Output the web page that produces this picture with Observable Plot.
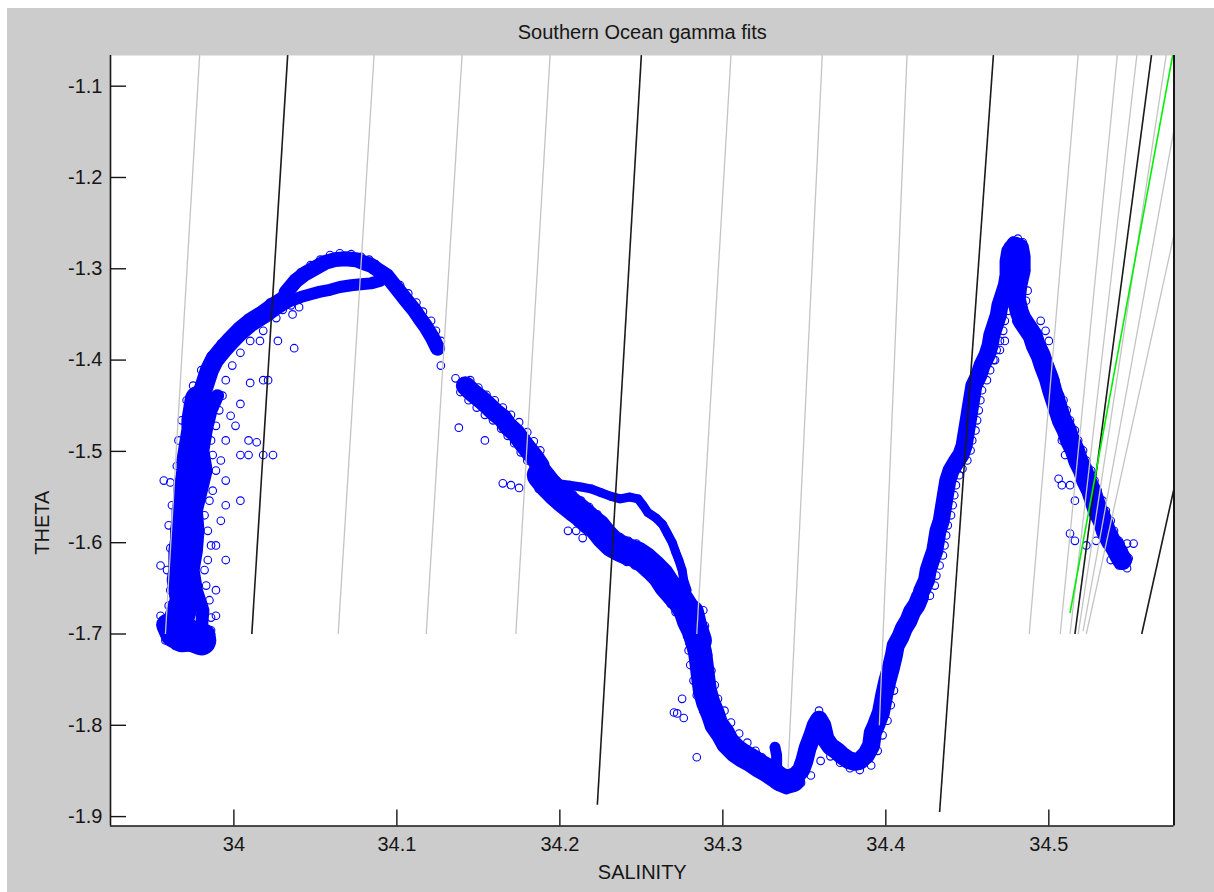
<!DOCTYPE html>
<html><head><meta charset="utf-8">
<script src="https://cdn.jsdelivr.net/npm/d3@7"></script>
<script src="https://cdn.jsdelivr.net/npm/@observablehq/plot@0.6"></script>
<style>
html,body{margin:0;padding:0;background:#ffffff;}
#chart{position:absolute;left:7px;top:8px;}
</style></head><body><div id="chart"></div>
<script>
// ---------- texts & ticks ----------
const title = "Southern Ocean gamma fits";
const xLabel = "SALINITY";
const yLabel = "THETA";
const xTicks = [34, 34.1, 34.2, 34.3, 34.4, 34.5];
const yTicks = [-1.1, -1.2, -1.3, -1.4, -1.5, -1.6, -1.7, -1.8, -1.9];
const xDomain = [33.9243, 34.5768];
const yDomain = [-1.9103, -1.0664];

// ---------- gamma (neutral density) fit lines ----------
const gammaSalBottom   = [33.958, 34.011, 34.064, 34.118, 34.173, 34.223, 34.284, 34.340, 34.396, 34.433, 34.488, 34.507, 34.513, 34.516, 34.518, 34.513, 34.521, 34.523, 34.557];
const gammaThetaBottom = [-1.700, -1.700, -1.700, -1.700, -1.700, -1.887, -1.700, -1.847, -1.800, -1.895, -1.700, -1.700, -1.700, -1.700, -1.700, -1.677, -1.697, -1.700, -1.700];
const gammaSalTop      = [33.979, 34.033, 34.086, 34.140, 34.194, 34.250, 34.305, 34.361, 34.413, 34.466, 34.518, 34.542, 34.554, 34.563, 34.572, 34.576, 34.577, 34.577, 34.577];
const gammaThetaTop    = [-1.066, -1.066, -1.066, -1.066, -1.066, -1.066, -1.066, -1.066, -1.066, -1.066, -1.066, -1.066, -1.066, -1.066, -1.066, -1.066, -1.145, -1.261, -1.539];
const gammaKind        = ["gray","black","gray","gray","gray","black","gray","gray","gray","black","gray","gray","gray","black","gray","green","gray","gray","black"];

// ---------- CTD scatter (salinity, theta): dense ridges, in profile order ----------
const bottomBlobCore = [[33.959,-1.690],[33.962,-1.702],[33.968,-1.708],[33.976,-1.707],[33.982,-1.701]];
const leftCoreLower = [[33.980,-1.707],[33.973,-1.702],[33.968,-1.694],[33.966,-1.685],[33.968,-1.674],[33.970,-1.663],[33.969,-1.652],[33.968,-1.641],[33.969,-1.630],[33.969,-1.619],[33.969,-1.609],[33.970,-1.598],[33.970,-1.587],[33.971,-1.576],[33.971,-1.565],[33.972,-1.554],[33.972,-1.543],[33.973,-1.532],[33.974,-1.521],[33.974,-1.510],[33.975,-1.499],[33.976,-1.488],[33.977,-1.477],[33.977,-1.466],[33.978,-1.455],[33.979,-1.444]];
const leftCoreRight = [[33.980,-1.696],[33.981,-1.674],[33.977,-1.652],[33.975,-1.630],[33.977,-1.609],[33.978,-1.587],[33.977,-1.565],[33.980,-1.543],[33.983,-1.521],[33.981,-1.499],[33.983,-1.477],[33.986,-1.455],[33.990,-1.439]];
const leftCoreUpper = [[33.979,-1.444],[33.981,-1.433],[33.983,-1.422],[33.985,-1.411],[33.988,-1.400],[33.993,-1.389],[33.998,-1.379],[34.004,-1.368],[34.010,-1.359],[34.018,-1.350],[34.025,-1.341],[34.032,-1.333]];
const loopUpperCore = [[34.032,-1.326],[34.038,-1.313],[34.044,-1.305],[34.050,-1.299],[34.056,-1.293],[34.062,-1.290],[34.068,-1.289],[34.075,-1.290],[34.079,-1.293],[34.084,-1.296],[34.089,-1.302],[34.094,-1.308],[34.098,-1.317],[34.102,-1.326],[34.106,-1.335],[34.111,-1.346],[34.114,-1.354],[34.118,-1.364],[34.122,-1.376],[34.125,-1.387]];
const loopLowerCore = [[34.030,-1.338],[34.035,-1.335],[34.041,-1.331],[34.047,-1.328],[34.053,-1.325],[34.059,-1.323],[34.065,-1.320],[34.072,-1.318],[34.078,-1.317],[34.084,-1.316],[34.090,-1.313]];
const midSlopeCore = [[34.142,-1.428],[34.146,-1.435],[34.151,-1.442],[34.156,-1.450],[34.160,-1.457],[34.165,-1.464],[34.168,-1.472],[34.173,-1.480],[34.177,-1.490],[34.181,-1.499],[34.185,-1.508],[34.188,-1.516]];
const lowerBranchCore = [[34.188,-1.526],[34.193,-1.537],[34.198,-1.546],[34.203,-1.554],[34.208,-1.561],[34.213,-1.568],[34.218,-1.576],[34.223,-1.583],[34.227,-1.592],[34.232,-1.601],[34.237,-1.606],[34.242,-1.610],[34.247,-1.613],[34.252,-1.619],[34.257,-1.627],[34.262,-1.636],[34.266,-1.647],[34.270,-1.655],[34.274,-1.663],[34.278,-1.674],[34.280,-1.685],[34.283,-1.696],[34.285,-1.707]];
const upperThinCore = [[34.191,-1.530],[34.198,-1.535],[34.206,-1.537],[34.213,-1.539],[34.219,-1.541],[34.225,-1.545],[34.231,-1.549],[34.237,-1.552],[34.243,-1.550],[34.248,-1.552],[34.251,-1.559],[34.254,-1.567],[34.259,-1.573],[34.263,-1.580],[34.266,-1.590],[34.269,-1.600],[34.271,-1.610],[34.273,-1.619],[34.275,-1.630],[34.276,-1.641],[34.278,-1.652]];
const troughCore = [[34.281,-1.676],[34.283,-1.691],[34.284,-1.707],[34.286,-1.720],[34.287,-1.734],[34.288,-1.749],[34.289,-1.762],[34.291,-1.775],[34.294,-1.788],[34.296,-1.799],[34.300,-1.809],[34.303,-1.819],[34.308,-1.828],[34.312,-1.833],[34.318,-1.839],[34.322,-1.844],[34.327,-1.849],[34.332,-1.855],[34.335,-1.859],[34.339,-1.862],[34.343,-1.860]];
const spikeCore = [[34.332,-1.824],[34.333,-1.833],[34.333,-1.844],[34.334,-1.855]];
const troughRightCore = [[34.344,-1.857],[34.348,-1.849],[34.350,-1.839],[34.352,-1.825],[34.355,-1.811],[34.357,-1.800],[34.359,-1.794],[34.361,-1.800],[34.363,-1.815],[34.366,-1.823],[34.370,-1.828],[34.373,-1.833],[34.377,-1.838],[34.381,-1.840],[34.384,-1.839],[34.388,-1.832],[34.391,-1.822],[34.392,-1.808],[34.394,-1.800],[34.397,-1.786],[34.399,-1.767],[34.401,-1.751],[34.403,-1.738],[34.405,-1.723],[34.406,-1.713],[34.409,-1.703],[34.411,-1.694],[34.414,-1.685],[34.416,-1.676],[34.419,-1.668],[34.421,-1.659]];
const rightLimbCore = [[34.422,-1.653],[34.425,-1.641],[34.426,-1.630],[34.428,-1.619],[34.430,-1.609],[34.431,-1.598],[34.432,-1.587],[34.434,-1.576],[34.435,-1.565],[34.436,-1.554],[34.437,-1.543],[34.438,-1.532],[34.440,-1.521],[34.443,-1.512],[34.446,-1.504],[34.448,-1.494],[34.449,-1.483],[34.450,-1.472],[34.451,-1.461],[34.452,-1.450],[34.453,-1.439],[34.454,-1.428],[34.457,-1.417],[34.459,-1.406],[34.462,-1.395],[34.464,-1.384],[34.465,-1.373],[34.467,-1.362],[34.469,-1.351],[34.470,-1.340],[34.472,-1.329],[34.474,-1.318],[34.475,-1.307],[34.475,-1.292],[34.476,-1.281],[34.479,-1.275]];
const peakCore = [[34.479,-1.275],[34.482,-1.277],[34.483,-1.287],[34.483,-1.302],[34.481,-1.318],[34.480,-1.333],[34.482,-1.348],[34.484,-1.357]];
const tailCore = [[34.484,-1.357],[34.487,-1.365],[34.490,-1.373],[34.492,-1.384],[34.495,-1.395],[34.497,-1.406],[34.500,-1.420],[34.502,-1.433],[34.504,-1.444],[34.506,-1.455],[34.508,-1.466],[34.511,-1.477],[34.513,-1.488],[34.516,-1.499],[34.518,-1.510],[34.521,-1.521],[34.523,-1.532],[34.526,-1.543],[34.528,-1.554],[34.530,-1.565],[34.533,-1.576],[34.535,-1.587],[34.538,-1.598],[34.541,-1.606],[34.543,-1.613],[34.545,-1.619]];

// ---------- CTD scatter: band edges and scattered samples ----------
const leftEdges = [
[33.961,-1.707],[33.958,-1.691],[33.960,-1.669],[33.961,-1.652],[33.959,-1.630],[33.961,-1.606],[33.960,-1.581],[33.962,-1.559],[33.961,-1.534],[33.965,-1.516],[33.966,-1.488],[33.968,-1.466],[33.971,-1.444],[33.975,-1.428],[33.980,-1.411],[33.986,-1.395],[33.992,-1.382],[33.999,-1.371],[34.007,-1.359],[34.015,-1.348],[34.022,-1.337],
[33.986,-1.696],[33.989,-1.680],[33.985,-1.663],[33.983,-1.647],[33.982,-1.630],[33.984,-1.619],[33.986,-1.603],[33.984,-1.587],[33.982,-1.570],[33.985,-1.554],[33.987,-1.543],[33.989,-1.521],[33.987,-1.504],[33.986,-1.488],[33.989,-1.472],[33.991,-1.455],[33.993,-1.439],[33.995,-1.422],[33.999,-1.406],[34.004,-1.392],[34.010,-1.379],[34.018,-1.368],[34.026,-1.354],[34.035,-1.340],
[33.955,-1.680],[33.958,-1.707],[33.964,-1.713],[33.970,-1.713],[33.976,-1.711],[33.983,-1.705],[33.973,-1.691],[33.980,-1.680],[33.986,-1.682],[33.981,-1.698],[33.977,-1.704]
];
const leftStrays = [
[33.995,-1.559],[34.004,-1.554],[34.004,-1.504],[34.009,-1.504],[34.018,-1.504],[34.024,-1.504],[34.014,-1.490],[34.004,-1.448],[34.010,-1.425],[34.018,-1.422],[34.021,-1.422],[34.016,-1.379],[34.027,-1.379],[34.037,-1.387],[33.998,-1.461],[34.001,-1.472],[33.992,-1.510],[33.995,-1.532],[33.995,-1.488],[34.009,-1.488],[33.955,-1.625],[33.957,-1.532],[33.992,-1.576],[33.989,-1.603],[33.995,-1.619],[33.989,-1.652],
[34.030,-1.345],[34.036,-1.350],[34.040,-1.342]
];
const loopEdges = [
[34.035,-1.316],[34.041,-1.304],[34.047,-1.296],[34.053,-1.290],[34.059,-1.285],[34.065,-1.283],[34.072,-1.284],[34.078,-1.287],[34.083,-1.290],[34.087,-1.295],[34.092,-1.302],[34.097,-1.310],[34.102,-1.318],[34.107,-1.327],[34.112,-1.337],[34.116,-1.347],[34.121,-1.357],[34.124,-1.368],[34.127,-1.379],
[34.127,-1.406],[34.136,-1.420],[34.138,-1.474],[34.154,-1.488]
];
const midEdges = [
[34.145,-1.422],[34.150,-1.430],[34.155,-1.438],[34.160,-1.444],[34.165,-1.452],[34.170,-1.460],[34.175,-1.468],[34.180,-1.479],[34.184,-1.489],[34.188,-1.499],
[34.139,-1.435],[34.144,-1.444],[34.149,-1.452],[34.154,-1.460],[34.159,-1.466],[34.164,-1.475],[34.168,-1.483],[34.172,-1.491],[34.176,-1.501],[34.180,-1.510],[34.184,-1.519],
[34.165,-1.535],[34.170,-1.537],[34.175,-1.540]
];
const branchEdges = [
[34.193,-1.523],[34.198,-1.532],[34.203,-1.541],[34.208,-1.547],[34.213,-1.554],[34.218,-1.561],[34.223,-1.569],[34.227,-1.577],[34.232,-1.587],[34.237,-1.594],[34.242,-1.598],[34.247,-1.601],[34.252,-1.609],[34.257,-1.616],[34.262,-1.625],[34.267,-1.636],[34.271,-1.647],[34.275,-1.655],
[34.187,-1.541],[34.192,-1.548],[34.197,-1.556],[34.202,-1.563],[34.206,-1.571],[34.211,-1.578],[34.216,-1.584],[34.221,-1.592],[34.226,-1.601],[34.231,-1.610],[34.236,-1.616],[34.241,-1.621],[34.246,-1.625],[34.251,-1.630],[34.256,-1.638],[34.260,-1.647],[34.264,-1.657],[34.268,-1.667],[34.271,-1.676],[34.275,-1.687],[34.278,-1.698],
[34.205,-1.587],[34.210,-1.587],[34.214,-1.595]
];
const troughEdges = [
[34.276,-1.685],[34.278,-1.702],[34.279,-1.718],[34.280,-1.734],[34.282,-1.751],[34.284,-1.767],[34.288,-1.784],[34.291,-1.797],[34.295,-1.808],[34.300,-1.819],[34.305,-1.828],[34.310,-1.835],[34.315,-1.842],[34.320,-1.847],[34.324,-1.853],[34.329,-1.858],[34.334,-1.867],[34.339,-1.871],
[34.288,-1.674],[34.289,-1.691],[34.290,-1.707],[34.291,-1.723],[34.293,-1.740],[34.295,-1.756],[34.297,-1.771],[34.301,-1.784],[34.305,-1.797],[34.310,-1.809],[34.315,-1.819],[34.320,-1.828],[34.324,-1.835],[34.329,-1.842],
[34.275,-1.771],[34.270,-1.786],[34.272,-1.787],[34.276,-1.792],[34.284,-1.835],
[34.348,-1.863],[34.354,-1.855],[34.360,-1.839],[34.366,-1.834],[34.372,-1.841],[34.378,-1.847],[34.384,-1.849],[34.391,-1.844],[34.395,-1.828],[34.398,-1.811],[34.401,-1.795],[34.403,-1.778],[34.405,-1.762],
[34.354,-1.806],[34.357,-1.793],[34.359,-1.784],[34.351,-1.822]
];
const rightEdges = [
[34.427,-1.658],[34.430,-1.647],[34.431,-1.636],[34.433,-1.625],[34.435,-1.614],[34.436,-1.603],[34.437,-1.592],[34.438,-1.581],[34.440,-1.570],[34.441,-1.559],[34.442,-1.548],[34.443,-1.537],[34.445,-1.526],[34.447,-1.519],[34.450,-1.510],[34.452,-1.499],[34.453,-1.488],[34.455,-1.477],[34.456,-1.466],[34.457,-1.455],[34.458,-1.444],[34.459,-1.433],[34.462,-1.422],[34.464,-1.411],[34.466,-1.400],[34.468,-1.389],[34.470,-1.379],[34.472,-1.368],[34.473,-1.357],[34.475,-1.346],
[34.475,-1.275],[34.478,-1.269],[34.481,-1.267],[34.484,-1.271],[34.485,-1.280],[34.483,-1.285],[34.485,-1.293],[34.486,-1.302],[34.484,-1.311],[34.481,-1.318],[34.479,-1.329],[34.481,-1.340],[34.484,-1.348],[34.486,-1.335],[34.487,-1.324],[34.474,-1.289],[34.473,-1.302],[34.476,-1.324],[34.478,-1.335],[34.479,-1.346],[34.480,-1.357],[34.473,-1.379],[34.470,-1.389],[34.467,-1.400]
];
const tailEdges = [
[34.509,-1.444],[34.511,-1.455],[34.513,-1.466],[34.516,-1.477],[34.518,-1.488],[34.521,-1.499],[34.523,-1.510],[34.526,-1.521],[34.528,-1.532],[34.530,-1.543],[34.533,-1.554],[34.535,-1.565],[34.538,-1.576],[34.540,-1.587],[34.543,-1.598],[34.546,-1.609],[34.549,-1.617],
[34.498,-1.368],[34.495,-1.357],[34.500,-1.379],[34.504,-1.422],[34.507,-1.439],[34.508,-1.488],[34.510,-1.504],[34.506,-1.530],[34.508,-1.537],[34.513,-1.537],[34.516,-1.554],[34.513,-1.590],[34.516,-1.598],[34.523,-1.603],[34.529,-1.598],[34.532,-1.581],[34.538,-1.619],[34.543,-1.625],
[34.544,-1.601],[34.548,-1.601],[34.552,-1.601],[34.548,-1.628]
];

// ---------- build ----------
const ridges = [
  {pts: bottomBlobCore, w: 22}, {pts: leftCoreLower, w: 30}, {pts: leftCoreRight, w: 13}, {pts: leftCoreUpper, w: 19},
  {pts: loopUpperCore, w: 15}, {pts: loopLowerCore, w: 12}, {pts: midSlopeCore, w: 19},
  {pts: lowerBranchCore, w: 27}, {pts: upperThinCore, w: 9}, {pts: troughCore, w: 24},
  {pts: spikeCore, w: 11}, {pts: troughRightCore, w: 18}, {pts: rightLimbCore, w: 17},
  {pts: peakCore, w: 19}, {pts: tailCore, w: 20}
];
const coreDots = ridges.flatMap(r => r.pts);
const scatter = [...coreDots, ...leftEdges, ...leftStrays, ...loopEdges, ...midEdges, ...branchEdges, ...troughEdges, ...rightEdges, ...tailEdges];
const gammaLines = gammaKind.map((k, i) => ({kind: k, s0: gammaSalBottom[i], t0: gammaThetaBottom[i], s1: gammaSalTop[i], t1: gammaThetaTop[i]}));

const W = 1207, H = 884;
const mL = 103, mR = 40.5, mT = 47, mB = 66.5;
const plotW = W - mL - mR, plotH = H - mT - mB;
const tickLen = 16;
const font = "'Liberation Sans', Arial, Helvetica, sans-serif";
const ink = "#161616";
const blue = "#0000ff";

const chart = Plot.plot({
  width: W, height: H,
  marginLeft: mL, marginRight: mR, marginTop: mT, marginBottom: mB,
  style: {background: "#cccccc", fontFamily: font, fontSize: "20px", color: ink, overflow: "visible"},
  x: {domain: xDomain, axis: null},
  y: {domain: yDomain, axis: null},
  marks: [
    Plot.frame({fill: "white", stroke: "none"}),
    ...ridges.map(r => Plot.line(r.pts, {x: d => d[0], y: d => d[1], stroke: blue, strokeWidth: r.w, strokeLinecap: "round", strokeLinejoin: "round"})),
    Plot.dot(scatter, {x: d => d[0], y: d => d[1], r: 3.8, stroke: blue, strokeWidth: 1.1, fill: "none"}),
    Plot.link(gammaLines.filter(d => d.kind === "gray"), {x1: "s0", y1: "t0", x2: "s1", y2: "t1", stroke: "#c4c4c4", strokeWidth: 1.3, clip: true}),
    Plot.link(gammaLines.filter(d => d.kind === "black"), {x1: "s0", y1: "t0", x2: "s1", y2: "t1", stroke: "#1a1a1a", strokeWidth: 1.6, clip: true}),
    Plot.link(gammaLines.filter(d => d.kind === "green"), {x1: "s0", y1: "t0", x2: "s1", y2: "t1", stroke: "#00f000", strokeWidth: 1.6, clip: true}),
    Plot.ruleX([xDomain[0]], {stroke: ink, strokeWidth: 1.6}),
    Plot.ruleX([xDomain[1]], {stroke: ink, strokeWidth: 2}),
    Plot.ruleY([yDomain[0]], {stroke: ink, strokeWidth: 1.6}),
    Plot.tickX(xTicks, {x: d => d, insetTop: plotH - tickLen, stroke: ink, strokeWidth: 1.4}),
    Plot.tickY(yTicks, {y: d => d, insetRight: plotW - tickLen, stroke: ink, strokeWidth: 1.4}),
    Plot.axisX({ticks: xTicks, tickSize: 0, tickPadding: 11, tickFormat: d => String(d), label: null, fontSize: 20, fill: ink}),
    Plot.axisY({ticks: yTicks, tickSize: 0, tickPadding: 8, tickFormat: d => String(d), label: null, fontSize: 20, fill: ink}),
    Plot.text([title], {text: d => d, frameAnchor: "top", textAnchor: "middle", lineAnchor: "bottom", dy: -17, fontSize: 20, fill: ink}),
    Plot.text([xLabel], {text: d => d, frameAnchor: "bottom", textAnchor: "middle", lineAnchor: "bottom", dy: 52.5, fontSize: 20, fill: ink}),
    Plot.text([yLabel], {text: d => d, frameAnchor: "left", textAnchor: "middle", lineAnchor: "middle", rotate: -90, dx: -68, dy: 82, fontSize: 20, fill: ink})
  ]
});
document.getElementById("chart").appendChild(chart);
</script>
</body></html>
